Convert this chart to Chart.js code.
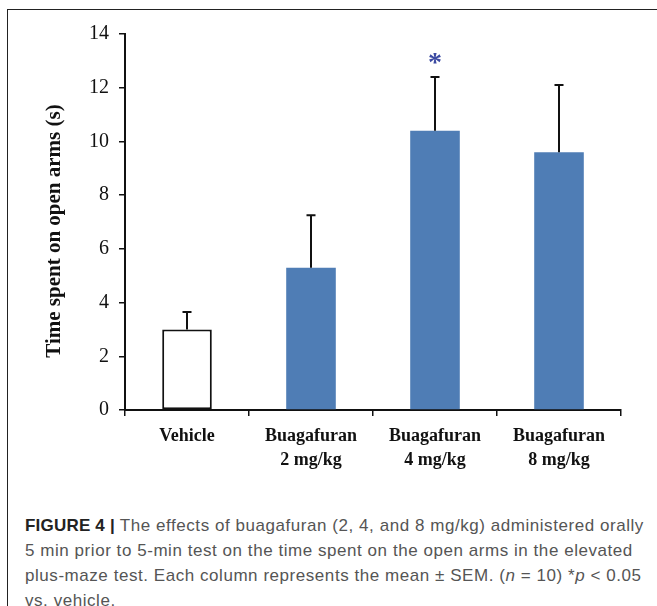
<!DOCTYPE html>
<html>
<head>
<meta charset="utf-8">
<script src="https://cdn.jsdelivr.net/npm/chart.js@4"></script>
<style>
  body { margin: 0; background: #fff; }
  #wrap { position: relative; width: 657px; height: 606px; overflow: hidden; }
  #chart { position: absolute; left: 0; top: 0; }
  .frameTop { position: absolute; left: 7px; top: 9px; width: 650px; height: 0; border-top: 1.5px solid #222; }
  .frameLeft { position: absolute; left: 7px; top: 9px; width: 0; height: 600px; border-left: 1.5px solid #222; }
  #caption {
    position: absolute; left: 25px; top: 513px;
    font-family: "Liberation Sans", Arial, sans-serif; font-size: 17px; line-height: 25px;
    letter-spacing: 0.55px; color: #555; white-space: nowrap;
  }
  #caption b { color: #222; letter-spacing: 0.2px; }
</style>
</head>
<body>
<div id="wrap">
  <canvas id="chart" width="657" height="490"></canvas>
  <div class="frameTop"></div>
  <div class="frameLeft"></div>
  <div id="caption">
    <b>FIGURE 4 |</b> The effects of buagafuran (2, 4, and 8 mg/kg) administered orally<br>
    5 min prior to 5-min test on the time spent on the open arms in the elevated<br>
    plus-maze test. Each column represents the mean ± SEM. (<i>n</i> = 10) *<i>p</i> &lt; 0.05<br>
    vs. vehicle.
  </div>
</div>
<script>
const groups = [['Vehicle'], ['Buagafuran', '2 mg/kg'], ['Buagafuran', '4 mg/kg'], ['Buagafuran', '8 mg/kg']];
const means = [3.0, 5.3, 10.4, 9.6];
const sem = [0.65, 1.95, 2.0, 2.5];
const stars = ['', '', '*', ''];
const yTicks = [0, 2, 4, 6, 8, 10, 12, 14];

const fills = ['#ffffff', '#4f7db5', '#4f7db5', '#4f7db5'];
const borders = ['#111111', '#4f7db5', '#4f7db5', '#4f7db5'];

// error bars (upper only) + significance marks
const errorBars = {
  id: 'errorBars',
  afterDatasetsDraw(chart) {
    const ctx = chart.ctx;
    const y = chart.scales.y;
    const meta = chart.getDatasetMeta(0);
    ctx.save();
    meta.data.forEach((bar, i) => {
      const yTop = y.getPixelForValue(means[i] + sem[i]);
      const yBar = y.getPixelForValue(means[i]);
      ctx.strokeStyle = '#111';
      ctx.lineWidth = 2;
      ctx.beginPath();
      ctx.moveTo(bar.x, yBar);
      ctx.lineTo(bar.x, yTop);
      ctx.moveTo(bar.x - 4.5, yTop);
      ctx.lineTo(bar.x + 4.5, yTop);
      ctx.stroke();
      if (stars[i]) {
        ctx.fillStyle = '#3b4aa2';
        ctx.font = 'bold 28px "Liberation Serif"';
        ctx.textAlign = 'center';
        ctx.textBaseline = 'alphabetic';
        ctx.fillText(stars[i], bar.x, yTop - 6);
      }
    });
    ctx.restore();
  }
};

// y axis title, drawn by hand so it sits where the original has it
const yTitle = {
  id: 'yTitle',
  afterDraw(chart) {
    const ctx = chart.ctx;
    ctx.save();
    ctx.translate(55, 231);
    ctx.rotate(-Math.PI / 2);
    ctx.font = 'bold 21px "Liberation Serif"';
    ctx.fillStyle = '#111';
    ctx.textAlign = 'center';
    ctx.textBaseline = 'middle';
    ctx.fillText('Time spent on open arms (s)', 0, 0);
    ctx.restore();
  }
};

new Chart(document.getElementById('chart'), {
  type: 'bar',
  data: {
    labels: groups,
    datasets: [{
      data: means,
      backgroundColor: fills,
      borderColor: borders,
      borderWidth: [2, 0, 0, 0],
      borderSkipped: false,
      categoryPercentage: 1,
      barPercentage: 0.4
    }]
  },
  options: {
    responsive: false,
    devicePixelRatio: 1,
    animation: false,
    layout: { padding: { left: 0, top: 34, right: 36, bottom: 10 } },
    plugins: { legend: { display: false }, tooltip: { enabled: false } },
    scales: {
      x: {
        afterFit(scale) { scale.height = 70; },
        grid: { drawOnChartArea: false, drawTicks: true, tickLength: 6, color: '#111', lineWidth: 1.5, offset: true },
        border: { display: true, color: '#111', width: 2 },
        ticks: {
          color: '#111', padding: 8, maxRotation: 0, autoSkip: false,
          font: { family: 'Liberation Serif', size: 18, weight: 'bold', lineHeight: 1.35 }
        }
      },
      y: {
        min: 0, max: 14,
        afterFit(scale) { scale.width = 125; },
        afterBuildTicks(scale) { scale.ticks = yTicks.map(v => ({ value: v })); },
        grid: { drawOnChartArea: false, drawTicks: true, tickLength: 6, color: '#111', lineWidth: 1.5 },
        border: { display: true, color: '#111', width: 2 },
        ticks: {
          color: '#111', padding: 10,
          font: { family: 'Liberation Serif', size: 20 }
        }
      }
    }
  },
  plugins: [errorBars, yTitle]
});
</script>
</body>
</html>
